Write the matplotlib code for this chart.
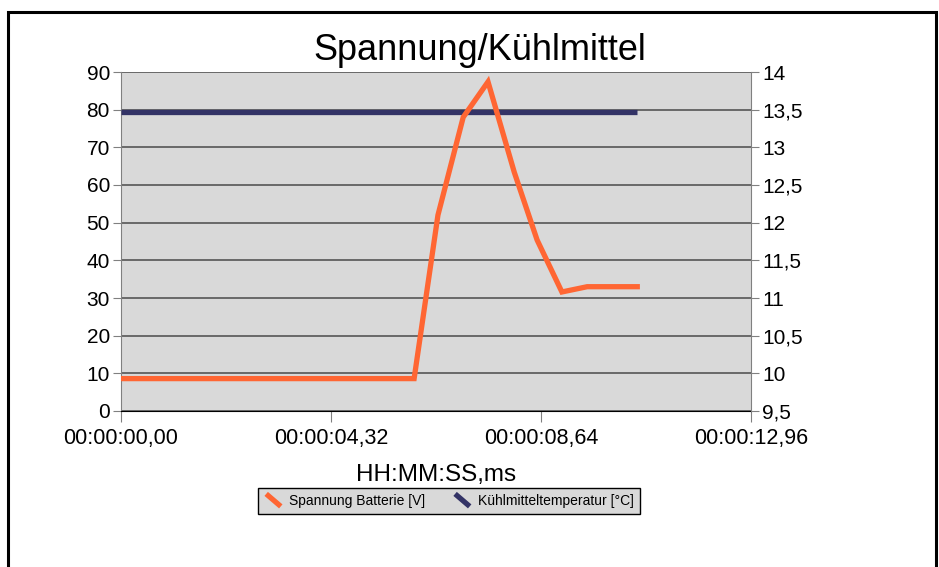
import numpy as np
import matplotlib.pyplot as plt
from matplotlib.lines import Line2D
from matplotlib.legend_handler import HandlerLine2D
from matplotlib.patches import Rectangle
from matplotlib.ticker import FixedLocator, FuncFormatter

plt.rcParams['font.family'] = ['Liberation Sans', 'DejaVu Sans']

# time in seconds
t_volt = [0.0, 6.03, 6.52, 7.04, 7.55, 8.09, 8.56, 9.07, 9.59, 10.11, 10.62]
volt = [9.93, 9.93, 12.10, 13.40, 13.87, 12.67, 11.77, 11.08, 11.15, 11.15, 11.15]
t_temp = [0.0, 10.62]
temp = [79.5, 79.5]
x_ticks = [0.0, 4.32, 8.64, 12.96]

orange = '#ff6633'
navy = '#333366'


def fmt_time(s, pos=None):
    h = int(s // 3600)
    m = int((s % 3600) // 60)
    sec = s % 60
    return ('%02d:%02d:%05.2f' % (h, m, sec)).replace('.', ',')


def fmt_comma(v, pos=None):
    if abs(v - round(v)) < 1e-9:
        return '%d' % round(v)
    return ('%g' % v).replace('.', ',')


class DiagHandler(HandlerLine2D):
    def create_artists(self, legend, orig_handle, xdescent, ydescent,
                       width, height, fontsize, trans):
        x0 = width * 0.1 - xdescent
        x1 = width * 0.8 - xdescent
        ln = Line2D([x0, x1], [height - ydescent + 1, -ydescent - 1],
                    color=orig_handle.get_color(),
                    lw=orig_handle.get_linewidth(),
                    solid_capstyle='butt')
        ln.set_transform(trans)
        return [ln]


fig = plt.figure(figsize=(9.39, 5.67), dpi=100)
fig.patches.append(Rectangle((8 / 939, -0.1), 928 / 939, 1.1 - 12 / 567,
                             transform=fig.transFigure, fill=False,
                             edgecolor='black', lw=2.2))

ax = fig.add_axes([121 / 939, 1 - 411 / 567, 630 / 939, 339 / 567])
ax.set_facecolor('#d9d9d9')
ax2 = ax.twinx()

l_temp, = ax.plot(t_temp, temp, color=navy, lw=3.8, solid_capstyle='butt', zorder=3)
l_volt, = ax2.plot(t_volt, volt, color=orange, lw=3.8, solid_joinstyle='miter', zorder=4)

ax.set_xlim(0, 12.96)
ax.set_ylim(0, 90)
ax2.set_ylim(9.5, 14)
ax.set_yticks(np.arange(0, 91, 10))
ax2.set_yticks(np.arange(9.5, 14.01, 0.5))
ax2.yaxis.set_major_formatter(FuncFormatter(fmt_comma))
ax.xaxis.set_major_locator(FixedLocator(x_ticks))
ax.xaxis.set_major_formatter(FuncFormatter(fmt_time))

ax.grid(axis='y', color='#555555', lw=1.2)
ax.set_axisbelow(True)
for a in (ax, ax2):
    a.spines['top'].set_visible(False)
    a.spines['left'].set_color('#808080')
    a.spines['right'].set_color('#808080')
    a.spines['bottom'].set_color('black')
    a.tick_params(labelsize=15, length=6, color='#808080', pad=2)
ax.spines['right'].set_visible(False)
ax2.spines['left'].set_visible(False)
ax2.spines['bottom'].set_visible(False)
ax.tick_params(axis='x', length=8, pad=4, labelsize=15.5)

ax.set_title('Spannung/Kühlmittel', fontsize=26, pad=9, x=0.57)
ax.set_xlabel('HH:MM:SS,ms', fontsize=17.5, labelpad=11)

leg = fig.legend([l_volt, l_temp],
                 ['Spannung Batterie [V]', 'Kühlmitteltemperatur [°C]'],
                 loc='center', bbox_to_anchor=(449 / 939, 1 - 501 / 567),
                 ncol=2, fontsize=10, frameon=True, fancybox=False,
                 handlelength=1.5, handletextpad=0.3, columnspacing=2.0,
                 borderpad=0.45,
                 handler_map={Line2D: DiagHandler()})
leg.get_frame().set_facecolor('#d9d9d9')
leg.get_frame().set_edgecolor('black')
leg.get_frame().set_linewidth(1.0)
leg.get_frame().set_alpha(1)

fig.savefig('out.png', dpi=100)
